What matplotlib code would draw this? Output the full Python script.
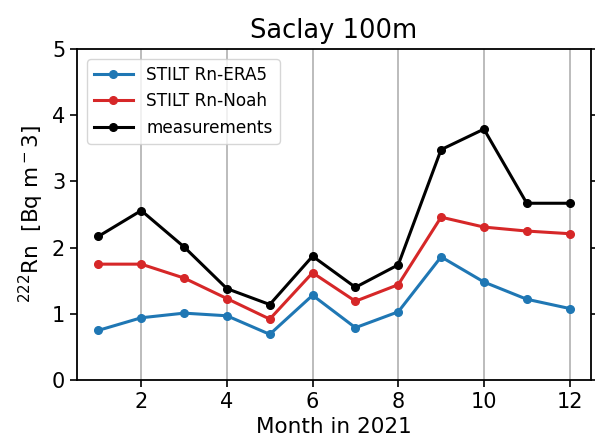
import numpy as np
import matplotlib
matplotlib.use('Agg')
import matplotlib.pyplot as plt

# valores mensuales de 222Rn (Bq m-3), Saclay 100m, 2021
meses = [1, 2, 3, 4, 5, 6, 7, 8, 9, 10, 11, 12]
rn_era5 = [0.75, 0.94, 1.01, 0.97, 0.69, 1.28, 0.79, 1.03, 1.86, 1.48, 1.22, 1.08]
rn_noah = [1.75, 1.75, 1.54, 1.23, 0.92, 1.62, 1.19, 1.44, 2.46, 2.31, 2.25, 2.21]
medidas = [2.17, 2.56, 2.01, 1.38, 1.14, 1.87, 1.40, 1.74, 3.48, 3.79, 2.67, 2.67]

fig, ax = plt.subplots(figsize=(5.95, 4.48), dpi=100)
fig.subplots_adjust(left=0.1294, right=0.9933, bottom=0.1518, top=0.8906)

ax.plot(meses, rn_era5, marker='o', color='#1f77b4', lw=2.2, ms=5.5, label='STILT Rn-ERA5')
ax.plot(meses, rn_noah, marker='o', color='#d62728', lw=2.2, ms=5.5, label='STILT Rn-Noah')
ax.plot(meses, medidas, marker='o', color='black', lw=2.2, ms=5.5, label='measurements')

ax.set_xlim(0.5, 12.5)
ax.set_ylim(0, 5)
ax.set_xticks([2, 4, 6, 8, 10, 12])
ax.set_yticks([0, 1, 2, 3, 4, 5])
ax.grid(axis='x', color='#b0b0b0', lw=1.2)
ax.tick_params(labelsize=15, right=True, length=5, width=1.2)
for s in ax.spines.values():
    s.set_linewidth(1.3)

ax.set_title('Saclay 100m', fontsize=18.5, pad=8)
ax.set_xlabel('Month in 2021', fontsize=15.5, labelpad=4)
ax.set_ylabel(r'$^{222}$Rn  [Bq m$^-$3]', fontsize=15.5)
ax.legend(loc='upper left', fontsize=12.2, handlelength=2.3, borderaxespad=0.6)

fig.savefig('out.png', dpi=100)
